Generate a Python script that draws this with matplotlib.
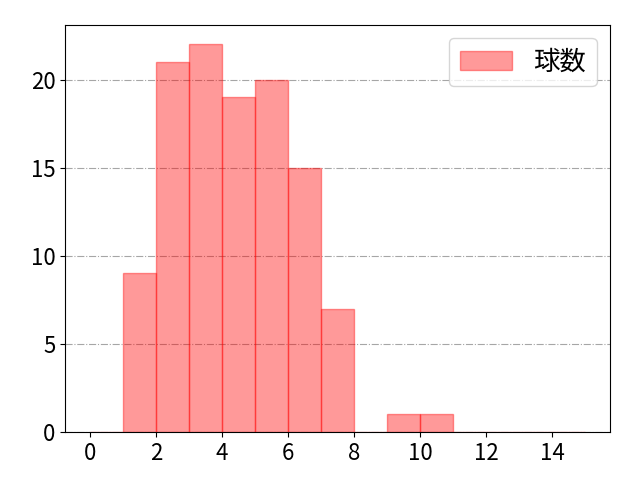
import matplotlib
matplotlib.use("Agg")
import matplotlib.pyplot as plt

plt.rcParams['font.family'] = ['Noto Sans CJK JP', 'DejaVu Sans']
plt.rcParams['font.size'] = 16

# bin left edges (width 1) and counts
bin_edges = list(range(0, 16))
counts = [0, 9, 21, 22, 19, 20, 15, 7, 0, 1, 1, 0, 0, 0, 0]

fig, ax = plt.subplots(figsize=(6.4, 4.8), dpi=100)
ax.hist(bin_edges[:-1], bins=bin_edges, weights=counts,
        color='red', alpha=0.4, edgecolor='red', label='球数')

ax.grid(True, axis='y', linestyle='-.', color='gray', alpha=0.7)
ax.set_axisbelow(True)
ax.set_xticks(range(0, 15, 2))
ax.set_yticks([0, 5, 10, 15, 20])
ax.legend(loc='upper right', fontsize=19)

fig.subplots_adjust(left=0.102, right=0.953, top=0.948, bottom=0.1)
plt.savefig("out.png")
